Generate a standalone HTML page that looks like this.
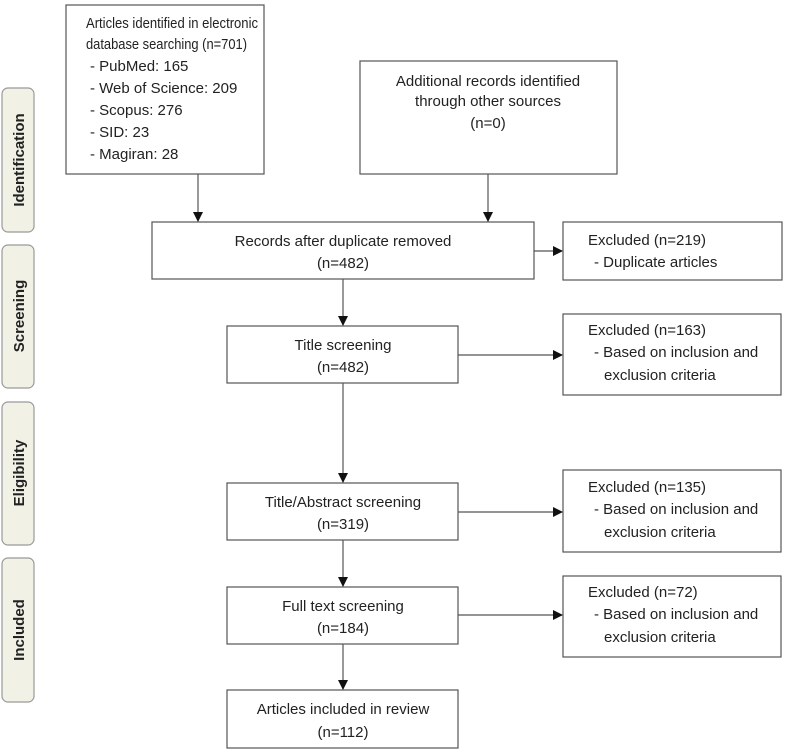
<!DOCTYPE html>
<html><head><meta charset="utf-8"><style>
body{margin:0;background:#fff}
text{font-family:"Liberation Sans",sans-serif;font-size:15px;fill:#222}
</style></head><body>
<svg width="795" height="750" viewBox="0 0 795 750" xmlns="http://www.w3.org/2000/svg">
<defs><marker id="a" markerWidth="10" markerHeight="10" refX="9" refY="5" orient="auto" markerUnits="userSpaceOnUse"><path d="M0,0 L10,5 L0,10 z" fill="#111"/></marker></defs>
<g fill="#f1f1e6" stroke="#999" stroke-width="1.2">
<rect x="2" y="88" width="32" height="144" rx="6"/>
<rect x="2" y="245" width="32" height="143" rx="6"/>
<rect x="2" y="402" width="32" height="143" rx="6"/>
<rect x="2" y="558" width="32" height="144" rx="6"/>
</g>
<g style="font-weight:bold;font-size:15px" text-anchor="middle">
<text transform="translate(24,160) rotate(-90)">Identification</text>
<text transform="translate(24,316) rotate(-90)">Screening</text>
<text transform="translate(24,473) rotate(-90)">Eligibility</text>
<text transform="translate(24,630) rotate(-90)">Included</text>
</g>
<g fill="#fff" stroke="#555" stroke-width="1.2">
<rect x="66" y="5" width="198" height="169"/>
<rect x="360" y="61" width="257" height="113"/>
<rect x="152" y="222" width="382" height="57"/>
<rect x="563" y="222" width="219" height="58"/>
<rect x="227" y="326" width="231" height="57"/>
<rect x="563" y="314" width="218" height="81"/>
<rect x="227" y="483" width="231" height="57"/>
<rect x="563" y="470" width="218" height="82"/>
<rect x="227" y="587" width="231" height="57"/>
<rect x="563" y="576" width="218" height="81"/>
<rect x="227" y="690" width="231" height="58"/>
</g>
<g stroke="#555" stroke-width="1.2" marker-end="url(#a)">
<line x1="198" y1="174" x2="198" y2="221"/>
<line x1="488" y1="174" x2="488" y2="221"/>
<line x1="343" y1="279" x2="343" y2="325"/>
<line x1="343" y1="383" x2="343" y2="482"/>
<line x1="343" y1="540" x2="343" y2="586"/>
<line x1="343" y1="644" x2="343" y2="689"/>
<line x1="534" y1="251" x2="562" y2="251"/>
<line x1="458" y1="355" x2="562" y2="355"/>
<line x1="458" y1="512" x2="562" y2="512"/>
<line x1="458" y1="615" x2="562" y2="615"/>
</g>
<text x="86" y="28" textLength="172" lengthAdjust="spacingAndGlyphs">Articles identified in electronic</text>
<text x="86" y="49" textLength="161" lengthAdjust="spacingAndGlyphs">database searching (n=701)</text>
<text x="90" y="71">- PubMed: 165</text>
<text x="90" y="93">- Web of Science: 209</text>
<text x="90" y="115">- Scopus: 276</text>
<text x="90" y="137">- SID: 23</text>
<text x="90" y="159">- Magiran: 28</text>
<g text-anchor="middle">
<text x="488" y="86">Additional records identified</text>
<text x="488" y="106">through other sources</text>
<text x="488" y="128">(n=0)</text>
<text x="343" y="246">Records after duplicate removed</text>
<text x="343" y="268">(n=482)</text>
<text x="343" y="350">Title screening</text>
<text x="343" y="372">(n=482)</text>
<text x="343" y="507">Title/Abstract screening</text>
<text x="343" y="529">(n=319)</text>
<text x="343" y="611">Full text screening</text>
<text x="343" y="633">(n=184)</text>
<text x="343" y="714">Articles included in review</text>
<text x="343" y="737">(n=112)</text>
</g>
<text x="588" y="245">Excluded (n=219)</text>
<text x="594" y="267">- Duplicate articles</text>
<text x="588" y="335">Excluded (n=163)</text>
<text x="594" y="357">- Based on inclusion and</text>
<text x="604" y="380">exclusion criteria</text>
<text x="588" y="492">Excluded (n=135)</text>
<text x="594" y="514">- Based on inclusion and</text>
<text x="604" y="537">exclusion criteria</text>
<text x="588" y="597">Excluded (n=72)</text>
<text x="594" y="619">- Based on inclusion and</text>
<text x="604" y="642">exclusion criteria</text>
</svg>
</body></html>
